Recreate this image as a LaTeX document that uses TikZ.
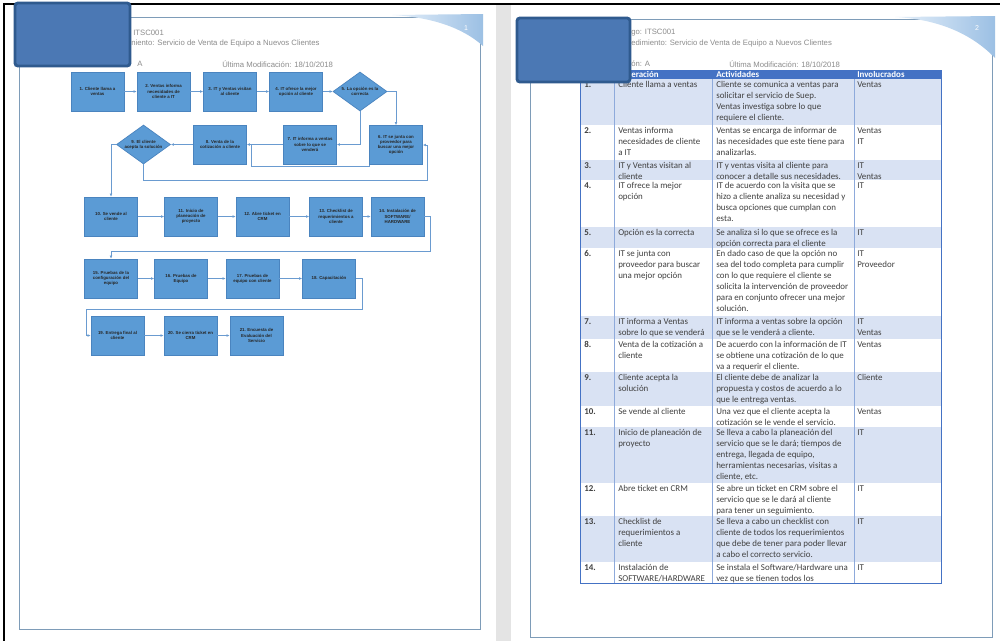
\documentclass[tikz,border=0pt]{standalone}
\usepackage{fontspec}
\setmainfont{Liberation Sans}
\newfontfamily\calib{Carlito}
\usetikzlibrary{shapes.geometric,arrows.meta,calc}
\definecolor{boxfill}{HTML}{5B9BD5}
\definecolor{boxline}{HTML}{4A84BF}
\definecolor{conncol}{HTML}{6A9BD0}
\definecolor{hdrgrey}{HTML}{8C8C8C}
\definecolor{pageline}{HTML}{7E9CB8}
\definecolor{redfill}{HTML}{4B78B4}
\definecolor{redline}{HTML}{2F5A8E}
\definecolor{rowblue}{HTML}{D9E2F3}
\definecolor{tblhead}{HTML}{4472C4}
\definecolor{gridcol}{HTML}{8EAADB}
\definecolor{celltext}{HTML}{404040}
\definecolor{stripgrey}{HTML}{E4E4E4}
\definecolor{swlight}{HTML}{E6F0FA}
\definecolor{swdark}{HTML}{9CC0E4}
\newcommand\boxfont{\fontsize{3.1}{3.7}\selectfont\bfseries}
\newcommand\cellfont{\calib\fontsize{6.35}{7.8}\selectfont}
\newcommand\hdrfont{\fontsize{5.5}{6.5}\selectfont}
\newcommand\tabrow[7]{%
  \fill[#4] (580,#2) rectangle (941,#3);
  \node[cell, font=\cellfont\bfseries] (num#1) at (584,#2+0.8) {\strut#1.};
  \node[cell] (op#1) at (618,#2+0.8) {\strut#5};
  \node[cell] (act#1) at (716,#2+0.8) {\strut#6};
  \node[cell] (inv#1) at (857,#2+0.8) {\strut#7};
  \draw[grid] (580,#3) -- (941,#3);
}
\begin{document}
\begin{tikzpicture}[x=0.025cm,y=-0.025cm,
  fbox/.style={rectangle, draw=boxline, fill=boxfill, line width=0.5pt, inner sep=0.5pt,
    align=center, font=\boxfont, text=black!85, minimum width=1.325cm, minimum height=0.975cm},
  fdia/.style={diamond, draw=boxline, fill=boxfill, line width=0.5pt, inner sep=0pt,
    minimum width=1.35cm, minimum height=0.975cm},
  diatext/.style={font=\boxfont, text=black!85, align=center, inner sep=0pt},
  conn/.style={draw=conncol, line width=0.6pt, -{Latex[length=2.2pt,width=2pt]}},
  plainline/.style={draw=conncol, line width=0.6pt},
  hdr/.style={font=\hdrfont, text=hdrgrey, inner sep=0pt, anchor=west},
  cell/.style={font=\cellfont, text=celltext, inner sep=0pt, anchor=north west, align=left},
  thead/.style={font=\cellfont\bfseries, text=white, inner sep=0pt, anchor=west},
  grid/.style={draw=gridcol, line width=0.45pt},
  pgnum/.style={font=\fontsize{5}{6}\selectfont, text=white, inner sep=0pt},
  redact/.style={draw=redline, fill=redfill, line width=2pt, rounded corners=2pt}]
\useasboundingbox (0,0) rectangle (1000,641);
\fill[white] (0,0) rectangle (1000,641);
\fill[stripgrey] (496,5) rectangle (511,641);
\draw[black,line width=1.6pt] (3,4) -- (1000,4);
\draw[black,line width=1.6pt] (4,4) -- (4,641);

% ---------------- left page ----------------
\draw[pageline, line width=0.7pt] (19,17) rectangle (480,629);
\shade[left color=swlight, right color=swdark] (392,15) .. controls (430,17) and (462,27) .. (483,46) -- (483,14) -- cycle;
\node[pgnum] (lpg) at (466,28) {1};
\node[hdr] (lcode) at (133,33) {ITSC001};
\node[hdr] (lproc) at (131,43.5) {niento: Servicio de Venta de Equipo a Nuevos Clientes};
\node[hdr] (lver) at (137,64) {A};
\node[hdr] (lmod) at (222,64) {Última Modificación: 18/10/2018};

% flowchart
\node[fbox] (b1) at (97.5,91.5) {1. Cliente llama a\\ ventas};
\node[fbox] (b2) at (163.5,91.5) {2. Ventas informa\\ necesidades de\\ cliente a IT};
\node[fbox] (b3) at (230,91.5) {3. IT y Ventas visitan\\ al cliente};
\node[fbox] (b4) at (296,91.5) {4. IT ofrece la mejor\\ opción al cliente};
\node[fdia] (d5) at (360,91.5) {};
\node[diatext] (d5t) at (d5) {5. La opción es la\\ correcta};
\node[fbox] (b6) at (396,145) {6. IT se junta con\\ proveedor para\\ buscar una mejor\\ opción};
\node[fbox] (b7) at (310,144.5) {7. IT informa a ventas\\ sobre lo que se\\ venderá};
\node[fbox] (b8) at (220,144.5) {8. Venta de la\\ cotización a cliente};
\node[fdia] (d9) at (143.5,144.5) {};
\node[diatext] (d9t) at (d9) {9. El cliente\\ acepta la solución};

\node[fbox] (b10) at (111,216.5) {10. Se vende al\\ cliente};
\node[fbox] (b11) at (191,216.5) {11. Inicio de\\ planeación de\\ proyecto};
\node[fbox] (b12) at (262.5,216.5) {12. Abre ticket en\\ CRM};
\node[fbox] (b13) at (336,216.5) {13. Checklist de\\ requerimientos a\\ cliente};
\node[fbox] (b14) at (397.5,216.5) {14. Instalación de\\ SOFTWARE/\\ HARDWARE};

\node[fbox] (b15) at (111,278.5) {15. Pruebas de la\\ configuración del\\ equipo};
\node[fbox] (b16) at (181,278.5) {16. Pruebas de\\ Equipo};
\node[fbox] (b17) at (252.5,278.5) {17. Pruebas de\\ equipo con cliente};
\node[fbox] (b18) at (329,278.5) {18. Capacitación};

\node[fbox] (b19) at (117.5,335.5) {19. Entrega final al\\ cliente};
\node[fbox] (b20) at (190.5,335.5) {20. Se cierra ticket en\\ CRM};
\node[fbox] (b21) at (256.5,335.5) {21. Encuesta de\\ Evaluación del\\ Servicio};

\draw[conn] (b1.east) -- (b1.east -| b2.west);
\draw[conn] (b2.east) -- (b2.east -| b3.west);
\draw[conn] (b3.east) -- (b3.east -| b4.west);
\draw[conn] (b4.east) -- (b4.east -| d5.west);
\draw[conn] (d5.east) -| (b6.north);
\draw[conn] (d5.south) |- (b7.east);
\draw[conn] (b7.west) -- (b8.east);
\draw[plainline] (b6.south west) -- ++(0,2) -| ($(b8.east)+(5,0)$);
\draw[conn] (b8.west) -- (d9.east);
\draw[conn] (d9.south) -- ++(0,16) -| ($(b6.east)+(5,0)$) -- (b6.east);
\draw[conn] (d9.west) -| (b10.north);

\draw[conn] (b10.east) -- (b10.east -| b11.west);
\draw[conn] (b11.east) -- (b11.east -| b12.west);
\draw[conn] (b12.east) -- (b12.east -| b13.west);
\draw[conn] (b13.east) -- (b13.east -| b14.west);
\draw[conn] (b14.east) -- ++(6,0) |- ($(b15.north)+(0,-7)$) -- (b15.north);

\draw[conn] (b15.east) -- (b15.east -| b16.west);
\draw[conn] (b16.east) -- (b16.east -| b17.west);
\draw[conn] (b17.east) -- (b17.east -| b18.west);
\draw[conn] (b18.east) -- ++(7,0) |- ($(b19.west)+(-4,-26)$) |- (b19.west);

\draw[conn] (b19.east) -- (b19.east -| b20.west);
\draw[conn] (b20.east) -- (b20.east -| b21.west);

% ---------------- right page ----------------
\draw[pageline, line width=0.7pt] (530,19) rectangle (992,637);
\shade[left color=swlight, right color=swdark] (895,17) .. controls (935,19) and (970,32) .. (995,58) -- (995,16) -- cycle;
\node[pgnum] (rpg) at (977,28) {2};
\node[hdr] (rcode) at (631,33) {go: ITSC001};
\node[hdr] (rproc) at (631,43.5) {edimiento: Servicio de Venta de Equipo a Nuevos Clientes};
\node[hdr] (rver) at (631,64) {ón: A};
\node[hdr] (rmod) at (729,64) {Última Modificación: 18/10/2018};

% table
\fill[tblhead] (580,70) rectangle (941,79);
\node[thead] (h1) at (631,74.8) {eración};
\node[thead] (h2) at (716,74.8) {Actividades};
\node[thead] (h3) at (857,74.8) {Involucrados};

\tabrow{1}{79}{125}{rowblue}{Cliente llama a ventas}{Cliente se comunica a ventas para\\ solicitar el servicio de Suep.\\ Ventas investiga sobre lo que\\ requiere el cliente.}{Ventas}
\tabrow{2}{125}{160}{white}{Ventas informa\\ necesidades de cliente\\ a IT}{Ventas se encarga de informar de\\ las necesidades que este tiene para\\ analizarlas.}{Ventas\\ IT}
\tabrow{3}{160}{180}{rowblue}{IT y Ventas visitan al\\ cliente}{IT y ventas visita al cliente para\\ conocer a detalle sus necesidades.}{IT\\ Ventas}
\tabrow{4}{180}{227}{white}{IT ofrece la mejor\\ opción}{IT de acuerdo con la visita que se\\ hizo a cliente analiza su necesidad y\\ busca opciones que cumplan con\\ esta.}{IT}
\tabrow{5}{227}{248}{rowblue}{Opción es la correcta}{Se analiza si lo que se ofrece es la\\ opción correcta para el cliente}{IT}
\tabrow{6}{248}{316}{white}{IT se junta con\\ proveedor para buscar\\ una mejor opción}{En dado caso de que la opción no\\ sea del todo completa para cumplir\\ con lo que requiere el cliente se\\ solicita la intervención de proveedor\\ para en conjunto ofrecer una mejor\\ solución.}{IT\\ Proveedor}
\tabrow{7}{316}{339}{rowblue}{IT informa a Ventas\\ sobre lo que se venderá}{IT informa a ventas sobre la opción\\ que se le venderá a cliente.}{IT\\ Ventas}
\tabrow{8}{339}{372}{white}{Venta de la cotización a\\ cliente}{De acuerdo con la información de IT\\ se obtiene una cotización de lo que\\ va a requerir el cliente.}{Ventas}
\tabrow{9}{372}{406}{rowblue}{Cliente acepta la\\ solución}{El cliente debe de analizar la\\ propuesta y costos de acuerdo a lo\\ que le entrega ventas.}{Cliente}
\tabrow{10}{406}{427}{white}{Se vende al cliente}{Una vez que el cliente acepta la\\ cotización se le vende el servicio.}{Ventas}
\tabrow{11}{427}{483}{rowblue}{Inicio de planeación de\\ proyecto}{Se lleva a cabo la planeación del\\ servicio que se le dará; tiempos de\\ entrega, llegada de equipo,\\ herramientas necesarias, visitas a\\ cliente, etc.}{IT}
\tabrow{12}{483}{516}{white}{Abre ticket en CRM}{Se abre un ticket en CRM sobre el\\ servicio que se le dará al cliente\\ para tener un seguimiento.}{IT}
\tabrow{13}{516}{562}{rowblue}{Checklist de\\ requerimientos a\\ cliente}{Se lleva a cabo un checklist con\\ cliente de todos los requerimientos\\ que debe de tener para poder llevar\\ a cabo el correcto servicio.}{IT}
\tabrow{14}{562}{583}{white}{Instalación de\\ SOFTWARE/HARDWARE}{Se instala el Software/Hardware una\\ vez que se tienen todos los}{IT}
\foreach \xx in {580,614,712,854,941} \draw[grid] (\xx,79) -- (\xx,583);
\draw[draw=tblhead, line width=0.5pt] (580,70) rectangle (941,583);

% ---------------- redaction boxes ----------------
\draw[redact] (15,3) rectangle (130,66);
\draw[redact] (517,18) rectangle (630,82);
\end{tikzpicture}
\end{document}
